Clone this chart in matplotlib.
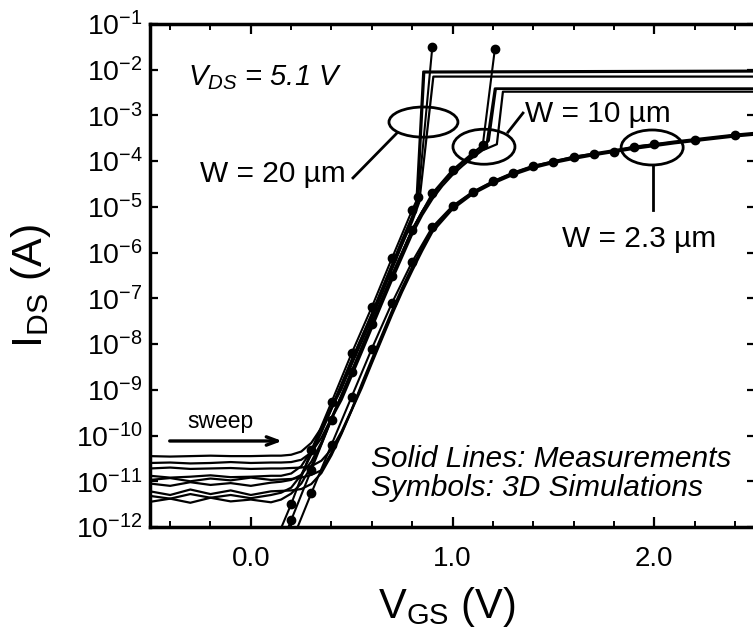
import numpy as np
import matplotlib
matplotlib.use("Agg")
import matplotlib.pyplot as plt
from matplotlib.patches import Ellipse
from matplotlib.ticker import MultipleLocator, FixedLocator, FuncFormatter

plt.rcParams['font.family'] = ['Liberation Sans', 'DejaVu Sans']
plt.rcParams['mathtext.fontset'] = 'custom'
plt.rcParams['mathtext.rm'] = 'Liberation Sans'
plt.rcParams['mathtext.it'] = 'Liberation Sans:italic'
plt.rcParams['mathtext.bf'] = 'Liberation Sans:bold'

# ---------------- data (log10 of I_DS in A) ----------------
# common gate-voltage grid for the measured curves (off-state + subthreshold)
vg_base = [-0.5, -0.4, -0.3, -0.2, -0.1, 0.0, 0.1, 0.15, 0.2, 0.25, 0.3, 0.35,
           0.4, 0.45, 0.5, 0.55, 0.6, 0.65, 0.7, 0.75, 0.8]

# W = 20 um measurements
meas20_a = [-10.45, -10.46, -10.45, -10.44, -10.45, -10.45, -10.44, -10.44, -10.42, -10.35, -10.16,
            -9.83, -9.38, -8.87, -8.35, -7.85, -7.34, -6.80, -6.27, -5.73, -5.22]
meas20_a_tail_v = [0.82, 0.855, 2.5]
meas20_a_tail = [-4.98, -2.04, -2.02]
meas20_b = [-10.88, -10.92, -10.90, -10.87, -10.91, -10.90, -10.88, -10.88, -10.83, -10.67, -10.33,
            -9.91, -9.41, -8.98, -8.45, -7.95, -7.44, -6.90, -6.37, -5.83, -5.32]
meas20_b_tail_v = [0.835, 0.905, 2.5]
meas20_b_tail = [-4.90, -2.15, -2.15]
meas20_c = [-11.32, -11.38, -11.28, -11.36, -11.30, -11.37, -11.30, -11.25, -11.14, -10.86, -10.41,
            -9.93, -9.42, -8.88, -8.35, -7.85, -7.34, -6.80, -6.27, -5.73, -5.22]
meas20_c_tail_v = [0.825, 0.86, 2.5]
meas20_c_tail = [-4.95, -2.06, -2.04]

# W = 10 um measurements
vg_10_ext = [0.85, 0.9, 0.95, 1.0, 1.05, 1.1, 1.15]
meas10_a = [-10.60, -10.59, -10.61, -10.60, -10.58, -10.60, -10.59, -10.59, -10.58, -10.53, -10.37,
            -10.05, -9.61, -9.11, -8.60, -8.08, -7.55, -7.02, -6.50, -6.00, -5.50,
            -5.10, -4.76, -4.47, -4.24, -4.04, -3.87, -3.71]
meas10_a_tail_v = [1.17, 1.21, 2.5]
meas10_a_tail = [-3.60, -2.41, -2.41]
meas10_b = [-11.05, -11.10, -11.02, -11.08, -11.04, -11.10, -11.03, -11.01, -10.97, -10.86, -10.57,
            -10.15, -9.63, -9.22, -8.70, -8.18, -7.65, -7.12, -6.60, -6.10, -5.60,
            -5.18, -4.83, -4.54, -4.30, -4.10, -3.92, -3.76]
meas10_b_tail_v = [1.22, 1.25, 2.5]
meas10_b_tail = [-3.63, -2.48, -2.48]
meas10_c = [-11.45, -11.38, -11.47, -11.36, -11.44, -11.40, -11.46, -11.40, -11.27, -11.05, -10.67,
            -10.18, -9.64, -9.12, -8.60, -8.08, -7.55, -7.02, -6.50, -6.00, -5.50,
            -5.10, -4.76, -4.47, -4.24, -4.04, -3.87, -3.71]
meas10_c_tail_v = [1.18, 1.215, 2.5]
meas10_c_tail = [-3.55, -2.42, -2.42]

# W = 2.3 um measurements
vg_23_ext = [0.85, 0.9, 1.0, 1.1, 1.2, 1.3, 1.4, 1.5, 1.6, 1.7, 1.8, 1.9, 2.0, 2.1, 2.2, 2.3, 2.4, 2.5]
meas23_a = [-10.72, -10.70, -10.73, -10.72, -10.71, -10.73, -10.72, -10.72, -10.71, -10.70, -10.67,
            -10.55, -10.30, -9.91, -9.43, -8.91, -8.38, -7.85, -7.32, -6.82, -6.36,
            -5.92, -5.52, -5.02, -4.70, -4.47, -4.28, -4.13, -4.02, -3.93, -3.85, -3.78, -3.71,
            -3.65, -3.59, -3.54, -3.49, -3.44, -3.40]
meas23_b = [-10.97, -10.93, -11.00, -10.94, -10.98, -10.92, -10.97, -10.96, -10.95, -10.92, -10.86,
            -10.76, -10.37, -9.94, -9.44, -8.87, -8.33, -7.80, -7.27, -6.77, -6.31,
            -5.88, -5.49, -5.00, -4.68, -4.45, -4.26, -4.11, -4.00, -3.91, -3.83, -3.76, -3.69,
            -3.63, -3.57, -3.52, -3.47, -3.42, -3.38]
meas23_c = [-11.22, -11.30, -11.18, -11.28, -11.20, -11.30, -11.22, -11.21, -11.20, -11.17, -11.06,
            -10.82, -10.43, -9.96, -9.45, -8.96, -8.42, -7.89, -7.36, -6.86, -6.40,
            -5.96, -5.55, -5.05, -4.72, -4.49, -4.30, -4.15, -4.04, -3.95, -3.87, -3.80, -3.73,
            -3.67, -3.61, -3.56, -3.51, -3.46, -3.42]

# 3D simulations (symbols)
sim20_v = [0.1, 0.2, 0.3, 0.4, 0.5, 0.6, 0.7, 0.8, 0.83, 0.9]
sim20_i = [-12.55, -11.50, -10.32, -9.27, -8.20, -7.19, -6.12, -5.07, -4.78, -1.50]
sim10_v = [0.1, 0.2, 0.3, 0.4, 0.5, 0.6, 0.7, 0.8, 0.9, 1.0, 1.1, 1.15, 1.21]
sim10_i = [-12.95, -11.85, -10.75, -9.65, -8.60, -7.55, -6.50, -5.50, -4.70, -4.19, -3.82, -3.65, -1.55]
sim23_v = [0.2, 0.3, 0.4, 0.5, 0.6, 0.7, 0.8, 0.9, 1.0, 1.1, 1.2, 1.3, 1.4, 1.5, 1.6, 1.7,
           1.8, 1.9, 2.0, 2.2, 2.4]
sim23_i = [-12.35, -11.26, -10.20, -9.15, -8.10, -7.10, -6.20, -5.44, -4.98, -4.67, -4.44, -4.25,
           -4.10, -4.01, -3.90, -3.84, -3.79, -3.68, -3.63, -3.54, -3.43]

x_major_ticks = [0.0, 1.0, 2.0]
y_tick_exponents = list(range(-12, 0))

# ---------------- figure ----------------
W, H = 753, 635
fig = plt.figure(figsize=(W / 100, H / 100), dpi=100)
ax = fig.add_axes([150 / W, (H - 527) / H, 605 / W, 503 / H])

lw_m = 1.6
meas_sets = [
    (vg_base + meas20_a_tail_v, meas20_a + meas20_a_tail),
    (vg_base + meas20_b_tail_v, meas20_b + meas20_b_tail),
    (vg_base + meas20_c_tail_v, meas20_c + meas20_c_tail),
    (vg_base + vg_10_ext + meas10_a_tail_v, meas10_a + meas10_a_tail),
    (vg_base + vg_10_ext + meas10_b_tail_v, meas10_b + meas10_b_tail),
    (vg_base + vg_10_ext + meas10_c_tail_v, meas10_c + meas10_c_tail),
    (vg_base + vg_23_ext, meas23_a),
    (vg_base + vg_23_ext, meas23_b),
    (vg_base + vg_23_ext, meas23_c),
]
for v, li in meas_sets:
    ax.plot(v, 10.0 ** np.array(li), color='black', lw=lw_m, solid_joinstyle='round')

for v, li in [(sim20_v, sim20_i), (sim10_v, sim10_i), (sim23_v, sim23_i)]:
    ax.plot(v, 10.0 ** np.array(li), color='black', lw=1.5, marker='o', ms=6,
            markerfacecolor='black', markeredgecolor='black')

ax.set_yscale('log')
ax.set_xlim(-0.5, 2.5)
ax.set_ylim(1e-12, 1e-1)

ax.xaxis.set_major_locator(FixedLocator(x_major_ticks))
ax.xaxis.set_minor_locator(MultipleLocator(0.2))
ax.xaxis.set_major_formatter(FuncFormatter(lambda x, p: f"{x:.1f}"))
ax.yaxis.set_major_locator(FixedLocator([10.0 ** e for e in y_tick_exponents]))
ax.yaxis.set_minor_locator(FixedLocator([]))
ax.yaxis.set_major_formatter(FuncFormatter(lambda y, p: r"$\mathdefault{10^{%d}}$" % int(round(np.log10(y)))))

ax.tick_params(axis='both', which='both', direction='in', top=True, right=True)
ax.tick_params(axis='x', which='major', length=7, width=1.6, labelsize=20, pad=14)
ax.tick_params(axis='x', which='minor', length=4, width=1.4)
ax.tick_params(axis='y', which='major', length=6, width=1.6, labelsize=20.5, pad=5)
for s in ax.spines.values():
    s.set_linewidth(2.5)

ax.set_xlabel(r"V$_{\mathrm{GS}}$ (V)", fontsize=30)
ax.xaxis.set_label_coords(0.49, -0.115)
ax.set_ylabel(r"I$_{\mathrm{DS}}$ (A)", fontsize=31)
ax.yaxis.set_label_coords(-0.16, 0.48)

# annotations
fs = 21.5
ax.text(0.063, 0.879, r"$V_{DS}$ = 5.1 V", transform=ax.transAxes, fontsize=21,
        style='italic', va='baseline', ha='left')
ax.text(0.0826, 0.686, "W = 20 µm", transform=ax.transAxes, fontsize=fs, va='baseline')
ax.text(0.620, 0.805, "W = 10 µm", transform=ax.transAxes, fontsize=fs, va='baseline')
ax.text(0.681, 0.557, "W = 2.3 µm", transform=ax.transAxes, fontsize=fs, va='baseline')
ax.text(0.061, 0.197, "sweep", transform=ax.transAxes, fontsize=16.5, va='baseline')
ax.annotate("", xy=(0.223, 0.171), xytext=(0.028, 0.171), xycoords='axes fraction',
            arrowprops=dict(arrowstyle='->,head_length=0.8,head_width=0.3', lw=2.4, color='black'))
ax.text(0.365, 0.119, "Solid Lines: Measurements", transform=ax.transAxes, fontsize=fs,
        style='italic', va='baseline')
ax.text(0.365, 0.062, "Symbols: 3D Simulations", transform=ax.transAxes, fontsize=fs,
        style='italic', va='baseline')

for cx, cy, w, h in [(0.452, 0.805, 0.114, 0.060), (0.552, 0.756, 0.1025, 0.0696),
                     (0.830, 0.7545, 0.1025, 0.0696)]:
    ax.add_patch(Ellipse((cx, cy), w, h, transform=ax.transAxes, fill=False,
                         lw=2.0, edgecolor='black', zorder=5))
for (x0, y0), (x1, y1) in [((0.3355, 0.694), (0.408, 0.783)),
                           ((0.5917, 0.785), (0.6165, 0.823)),
                           ((0.831, 0.720), (0.831, 0.630))]:
    ax.plot([x0, x1], [y0, y1], transform=ax.transAxes, color='black', lw=2.0, clip_on=False)

fig.savefig("out.png", dpi=100)
